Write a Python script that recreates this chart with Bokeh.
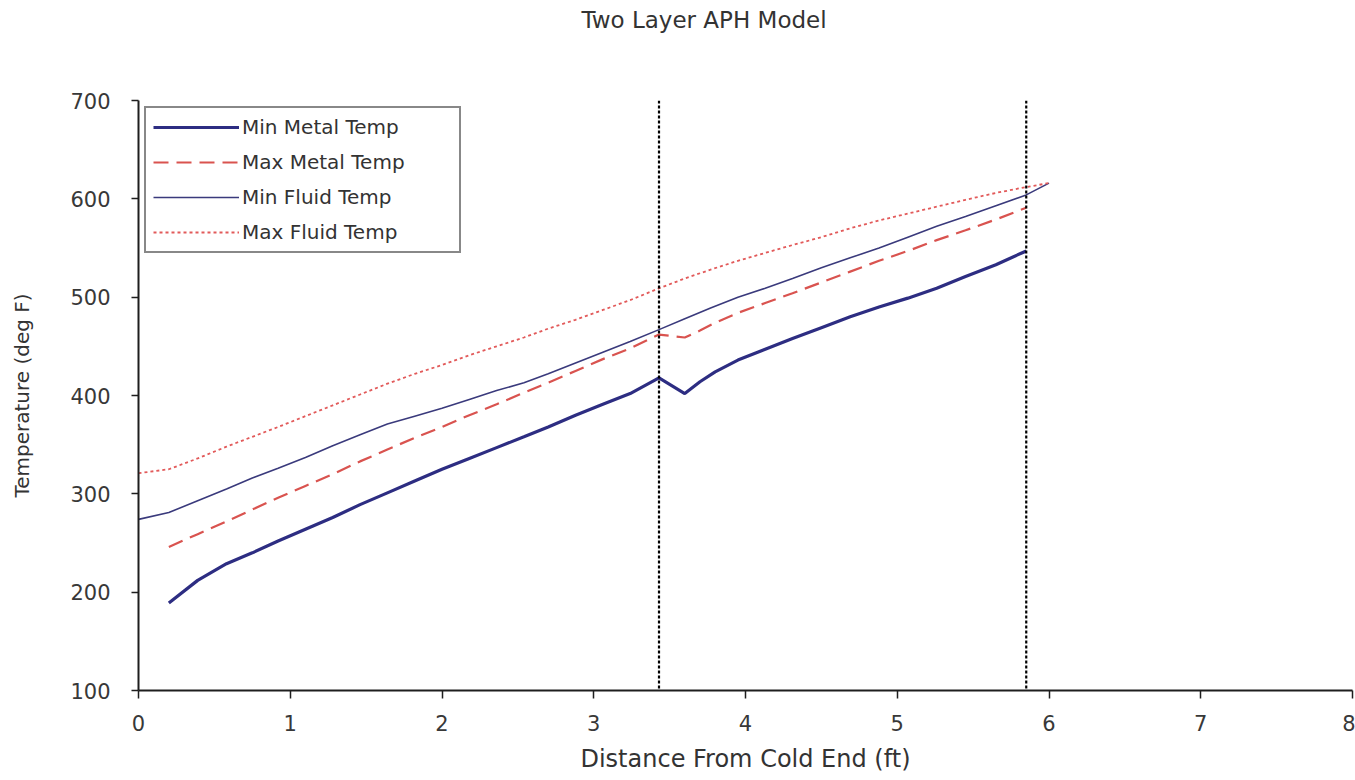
import math
from bokeh.plotting import figure
from bokeh.models import (Range1d, FixedTicker, Span, Legend, LegendItem,
                          LinearAxis, Title)
from bokeh.embed import file_html
from bokeh.resources import INLINE

# ---------------- data ----------------
TITLE = "Two Layer APH Model"
X_LABEL = "Distance From Cold End (ft)"
Y_LABEL = "Temperature (deg F)"
X_TICKS = [0, 1, 2, 3, 4, 5, 6, 7, 8]
Y_TICKS = [100, 200, 300, 400, 500, 600, 700]
LAYER_BOUNDARIES = [3.43, 5.85]

x_metal = [0.20, 0.39, 0.58, 0.75, 0.92, 1.10, 1.28, 1.46, 1.64, 1.82, 2.00,
           2.18, 2.36, 2.54, 2.70, 2.88, 3.06, 3.24, 3.43, 3.60, 3.70, 3.80,
           3.95, 4.13, 4.31, 4.50, 4.69, 4.88, 5.07, 5.26, 5.45, 5.65, 5.85]
min_metal = [189, 212, 229, 240, 252, 264, 276, 289, 301, 313, 325,
             336, 347, 358, 368, 380, 391, 402, 418, 402, 414, 424,
             436, 447, 458, 469, 480, 490, 499, 509, 521, 533, 547]
max_metal = [246, 259, 272, 284, 296, 308, 320, 333, 345, 357, 368,
             380, 391, 403, 413, 425, 437, 448, 462, 459, 466, 474,
             484, 494, 504, 515, 526, 537, 547, 558, 568, 579, 591]

x_fluid = [0.00, 0.20, 0.39, 0.58, 0.75, 0.92, 1.10, 1.28, 1.46, 1.64, 1.82,
           2.00, 2.18, 2.36, 2.54, 2.70, 2.88, 3.06, 3.24, 3.43, 3.60, 3.77,
           3.95, 4.13, 4.31, 4.50, 4.69, 4.88, 5.07, 5.26, 5.45, 5.65, 5.85, 6.00]
min_fluid = [274, 281, 293, 305, 316, 326, 337, 349, 360, 371, 379,
             387, 396, 405, 413, 422, 433, 444, 455, 467, 478, 489,
             500, 509, 519, 530, 540, 550, 561, 572, 582, 593, 604, 616]
max_fluid = [321, 325, 336, 348, 358, 368, 379, 390, 401, 412, 422,
             431, 441, 450, 459, 468, 477, 487, 497, 509, 519, 528,
             537, 545, 553, 561, 570, 578, 585, 592, 599, 606, 612, 616]

FONT = "DejaVu Sans"

p = figure(width=1355, height=780, output_backend="svg", toolbar_location=None,
           x_range=Range1d(0, 8), y_range=Range1d(100, 700),
           min_border_left=138, min_border_right=3, min_border_top=100,
           min_border_bottom=90,
           background_fill_color="white", border_fill_color="white")
p.outline_line_color = None
p.xgrid.visible = False
p.ygrid.visible = False

for ax in (p.xaxis[0], p.yaxis[0]):
    ax.axis_line_color = "#1e1e1e"
    ax.axis_line_width = 2
    ax.major_tick_line_color = "#1e1e1e"
    ax.major_tick_line_width = 1.5
    ax.minor_tick_line_color = None
    ax.major_tick_in = 0
    ax.major_label_text_font = FONT
    ax.major_label_text_font_size = "21px"
    ax.major_label_text_color = "#383838"
    ax.axis_label_text_font = FONT
    ax.axis_label_text_font_style = "normal"
    ax.axis_label_text_color = "#333333"

p.xaxis.ticker = FixedTicker(ticks=X_TICKS)
p.yaxis.ticker = FixedTicker(ticks=Y_TICKS)
p.xaxis.major_tick_out = 8
p.yaxis.major_tick_out = 7
p.xaxis.major_label_standoff = 16
p.yaxis.major_label_standoff = 21
p.xaxis.axis_label = X_LABEL
p.xaxis.axis_label_text_font_size = "24px"
p.xaxis.axis_label_standoff = 11
p.yaxis.axis_label = Y_LABEL
p.yaxis.axis_label_text_font_size = "20px"
p.yaxis.axis_label_standoff = 33

r_min_metal = p.line(x_metal, min_metal, line_color="#2d2d82", line_width=3.2)
r_max_metal = p.line(x_metal, max_metal, line_color="#d9534f", line_width=2.2,
                     line_dash="15 8")
r_min_fluid = p.line(x_fluid, min_fluid, line_color="#3a3a7c", line_width=1.6)
r_max_fluid = p.line(x_fluid, max_fluid, line_color="#e25a5a", line_width=1.8,
                     line_dash="3 3")

for b in LAYER_BOUNDARIES:
    p.add_layout(Span(location=b, dimension="height", line_color="#000000",
                      line_width=2.2, line_dash="3 2"))

legend = Legend(items=[LegendItem(label="Min Metal Temp", renderers=[r_min_metal]),
                       LegendItem(label="Max Metal Temp", renderers=[r_max_metal]),
                       LegendItem(label="Min Fluid Temp", renderers=[r_min_fluid]),
                       LegendItem(label="Max Fluid Temp", renderers=[r_max_fluid])],
                location="top_left", margin=6, padding=7, spacing=11,
                glyph_width=86, glyph_height=22, label_height=22, label_width=210,
                label_standoff=3, label_text_font=FONT, label_text_font_size="20px",
                label_text_color="#333333", border_line_color="#111111",
                border_line_width=2, background_fill_color="white",
                background_fill_alpha=1.0)
p.add_layout(legend)

# invisible spacer axis (white tick at the far right end, empty label)
SPACER_TICK = [8]
spacer = LinearAxis(ticker=FixedTicker(ticks=SPACER_TICK, minor_ticks=[]),
                    axis_line_color="#ffffff", axis_line_alpha=0.01,
                    major_tick_line_color="#ffffff", major_tick_line_alpha=0.01,
                    minor_tick_line_color=None,
                    major_tick_out=64, major_tick_in=0, minor_tick_out=0,
                    minor_tick_in=0, major_label_standoff=0,
                    major_label_overrides={8: ""},
                    major_label_text_font_size="1px")
p.add_layout(spacer, "above")
p.add_layout(Title(text=TITLE, align="left", offset=443, standoff=4,
                   vertical_align="top", text_font=FONT, text_font_size="23px",
                   text_font_style="normal", text_color="#333333"), "above")

with open("out.html", "w") as f:
    f.write(file_html(p, INLINE, title=TITLE))
